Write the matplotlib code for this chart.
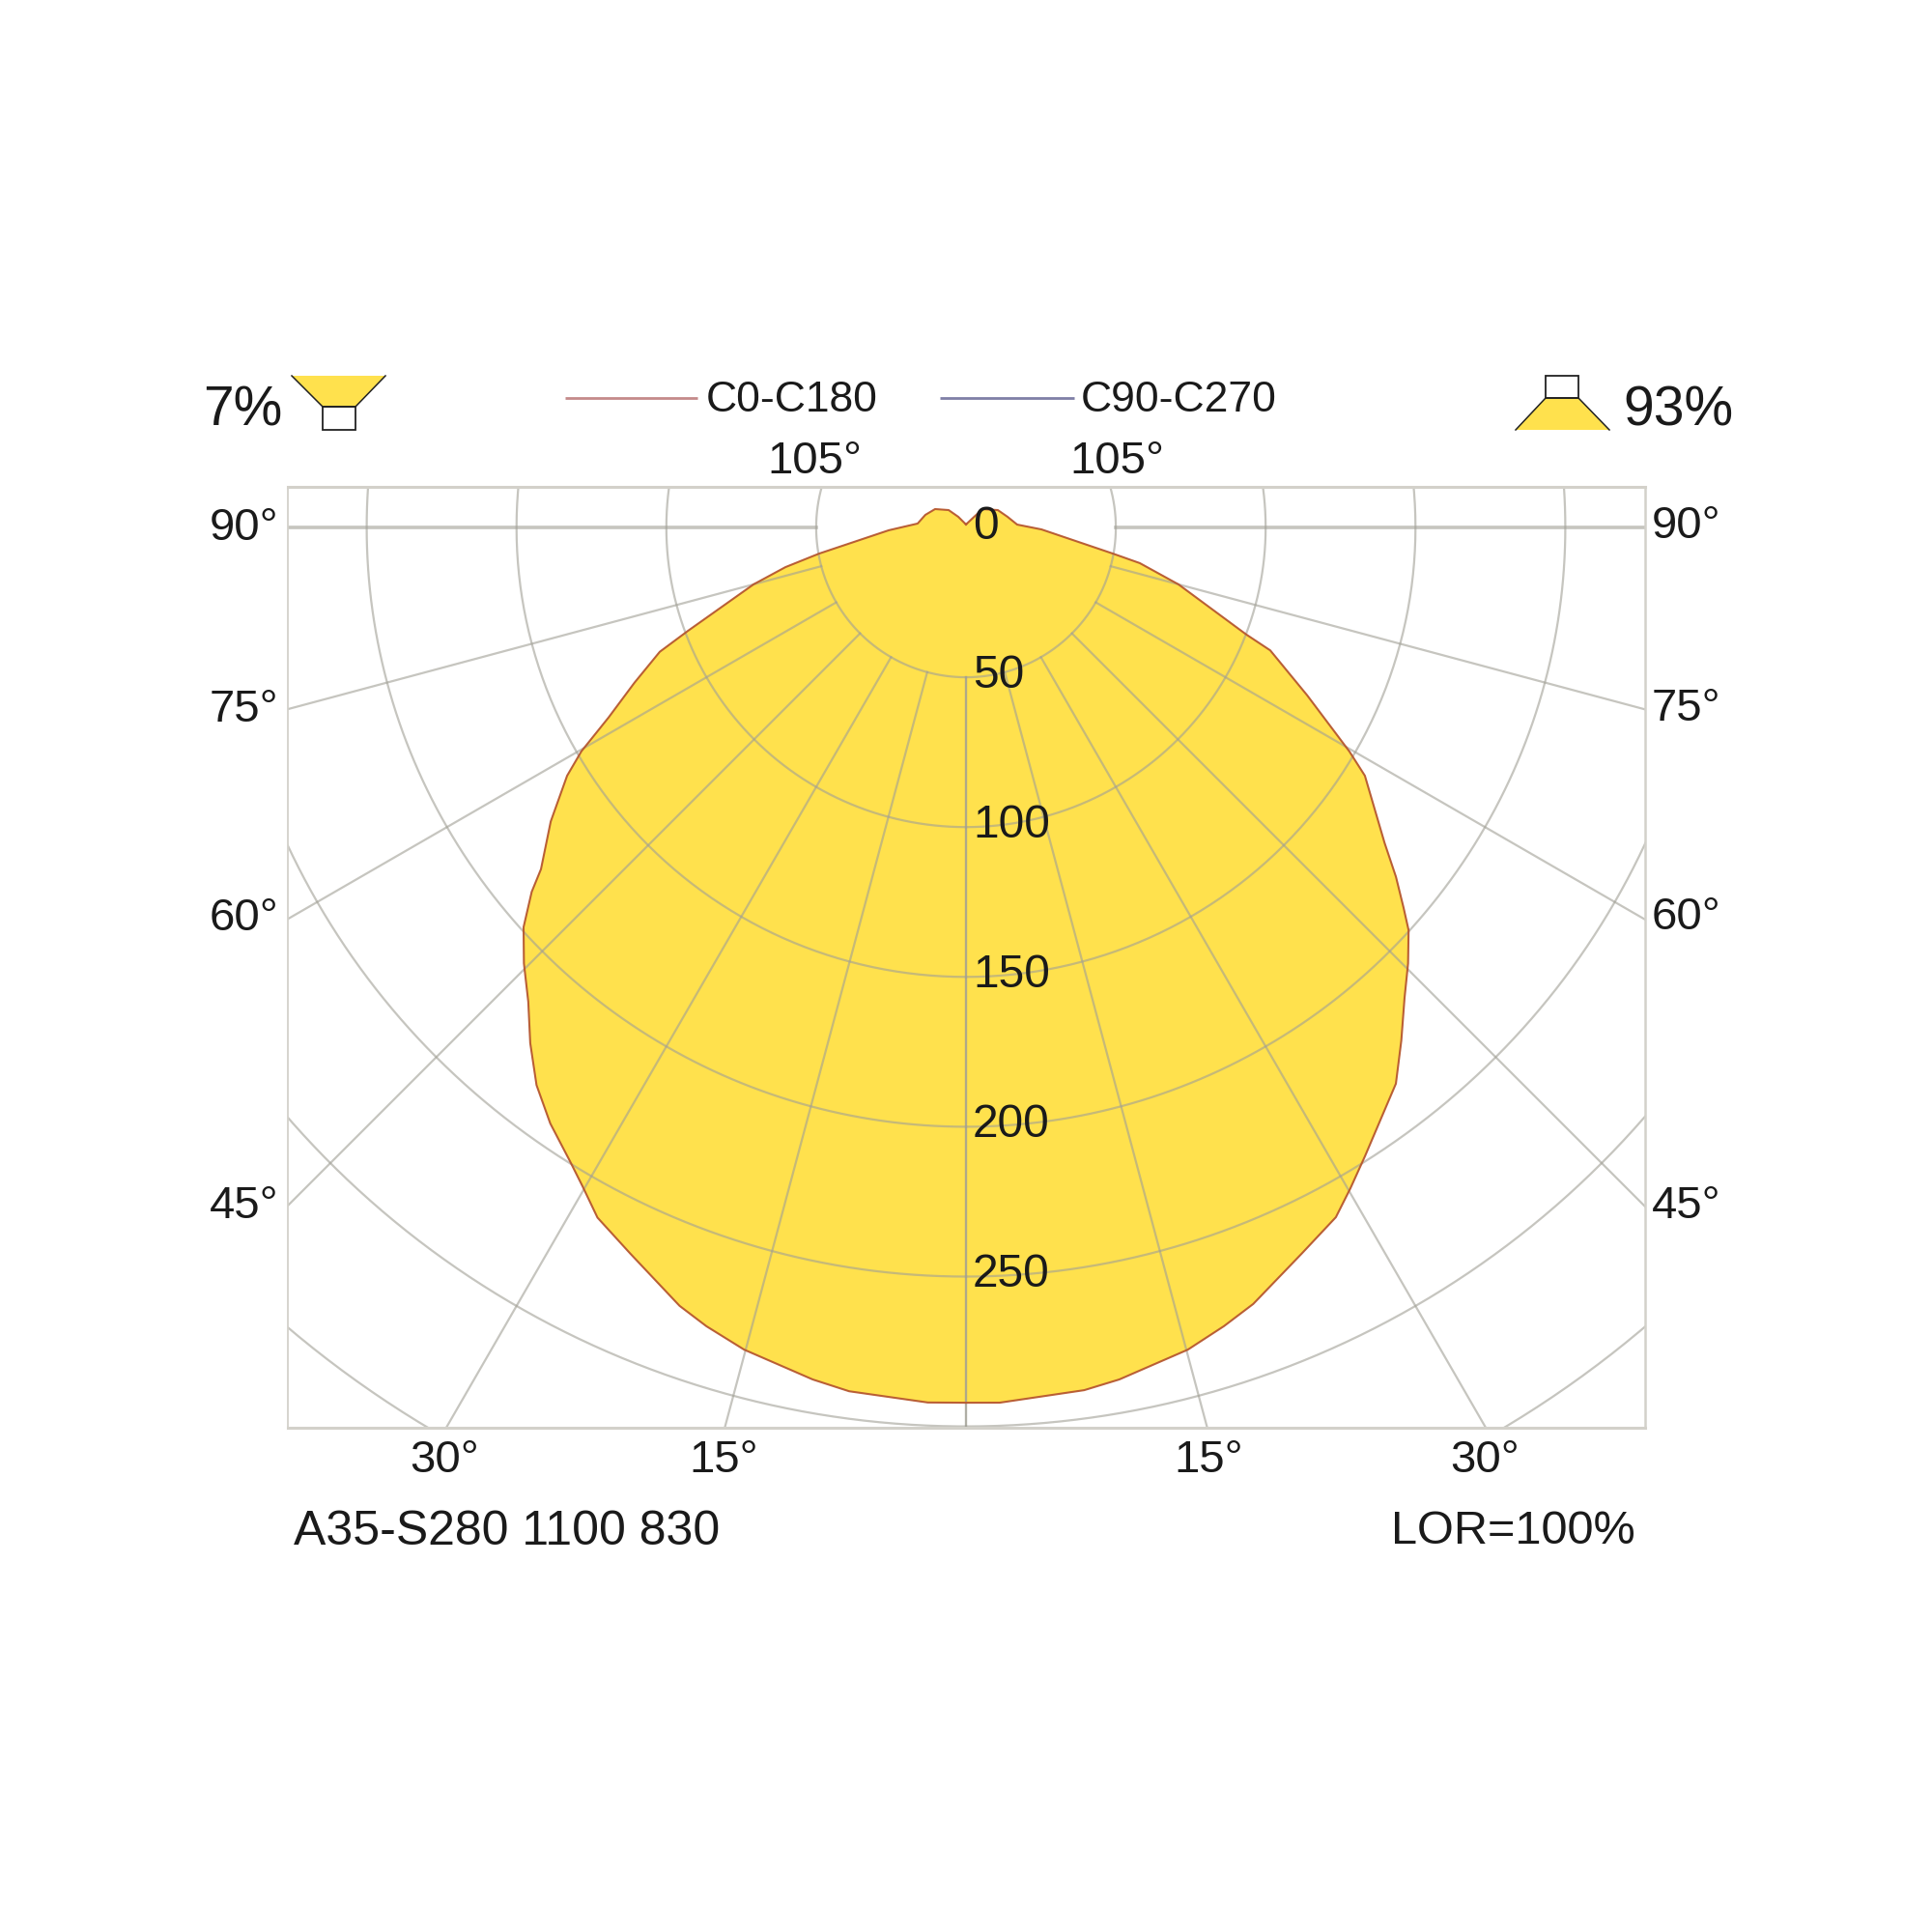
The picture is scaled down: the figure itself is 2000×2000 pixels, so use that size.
import numpy as np
import matplotlib
matplotlib.use("Agg")
import matplotlib.pyplot as plt
from matplotlib.patches import Polygon, Rectangle

plt.rcParams['font.family'] = ['Liberation Sans', 'DejaVu Sans']

# ---- data: luminous intensity (cd/klm) against angle from nadir (deg)
gamma_c0 = [0, 2.5, 7.7, 10.2, 15.1, 18.0, 20.2, 24.8, 28.1, 30.2, 32.0, 34.9, 37.6, 40.2,
            42.7, 45.4, 47.9, 50.0, 51.2, 54.7, 58.1, 59.8, 62.0, 64.9, 67.9, 69.6, 75.0,
            77.6, 79.9, 87.9, 94.6, 107.2, 120.7, 135.0, 144.0, 180.0]
cd_c0 = [292.1, 292.3, 290.9, 288.9, 284.2, 280.3, 276.8, 267.0, 261.1, 254.4, 249.4, 242.5,
         234.9, 225.3, 215.4, 207.2, 199.0, 189.2, 182.0, 169.8, 156.8, 148.5, 135.1, 122.2,
         110.3, 99.0, 73.4, 61.7, 49.8, 25.8, 16.2, 14.2, 12.0, 8.2, 4.4, 1.0]
gamma_c180 = [0, 2.2, 7.8, 10.2, 15.1, 17.9, 20.3, 24.8, 28.2, 30.2, 32.4, 37.7, 40.3, 43.0,
              45.4, 47.7, 49.0, 50.9, 53.0, 58.1, 59.7, 63.8, 68.0, 69.1, 75.0, 78.4, 79.9,
              88.5, 93.2, 104.4, 118.6, 138.2, 180.0]
cd_c180 = [292.1, 292.3, 290.6, 288.9, 284.2, 280.1, 276.3, 267.0, 261.2, 255.1, 248.5, 234.6,
           224.6, 214.6, 207.2, 199.7, 193.5, 184.9, 174.9, 156.8, 148.2, 126.9, 109.5, 100.1,
           73.4, 59.2, 49.8, 25.2, 17.1, 14.3, 12.1, 8.2, 1.0]

radial_ticks = [50, 100, 150, 200, 250, 300, 350]
radial_labels = [0, 50, 100, 150, 200, 250]
spoke_angles = [0, 15, 30, 45, 60, 75, 90]
series_names = ['C0-C180', 'C90-C270']
downward = '7%'
upward = '93%'
luminaire = 'A35-S280 1100 830'
lor = 'LOR=100%'

# ---- styles
YELLOW = '#FFE14D'
GRID = '#a09f95'
GRID_ALPHA = 0.6
RED = '#b8552a'
BLUE = '#6f6f9c'
INK = '#1a1a1a'

W = 2000
fig = plt.figure(figsize=(20, 20), dpi=100, facecolor='white')

L, R, T, B = 298, 1703, 504, 1478
CX, CY, SCALE = 1000, 546, 3.102
ax = fig.add_axes([L / W, 1 - B / W, (R - L) / W, (B - T) / W])
ax.set_xlim((L - CX) / SCALE, (R - CX) / SCALE)
ax.set_ylim((CY - B) / SCALE, (CY - T) / SCALE)
ax.set_xticks([])
ax.set_yticks([])
for side, lw in zip(['top', 'bottom', 'left', 'right'], [2.2, 2.2, 1.3, 1.8]):
    ax.spines[side].set_color('#d3d1ca')
    ax.spines[side].set_linewidth(lw)


def polar(gamma, cd, sign):
    g = np.radians(gamma)
    return sign * np.asarray(cd) * np.sin(g), -np.asarray(cd) * np.cos(g)


xl, yl = polar(gamma_c0, cd_c0, -1)
xr, yr = polar(gamma_c180, cd_c180, 1)
x_curve = np.concatenate([xl[::-1], xr[1:]])
y_curve = np.concatenate([yl[::-1], yr[1:]])

ax.fill(x_curve, y_curve, color=YELLOW, lw=0, zorder=1)

# grid
phi = np.radians(np.linspace(0, 360, 721))
for r in radial_ticks:
    ax.plot(r * np.sin(phi), -r * np.cos(phi), color=GRID, alpha=GRID_ALPHA, lw=1.6, zorder=2)
rmax = 420
for a in spoke_angles:
    t = np.radians(a)
    lw = 2.6 if a == 90 else 1.6
    for s in (-1, 1):
        ax.plot([s * 50 * np.sin(t), s * rmax * np.sin(t)],
                [-50 * np.cos(t), -rmax * np.cos(t)], color=GRID, alpha=GRID_ALPHA, lw=lw, zorder=2)

# curves (the two planes coincide)
ax.plot(x_curve, y_curve, color=BLUE, lw=0.6, alpha=0.6, zorder=3, solid_joinstyle='round')
ax.plot(x_curve, y_curve, color=RED, lw=1.5, alpha=0.9, zorder=4, solid_joinstyle='round')

# overlay in pixel coordinates for the annotations
ov = fig.add_axes([0, 0, 1, 1], facecolor='none')
ov.set_xlim(0, W)
ov.set_ylim(W, 0)
ov.axis('off')


def label(x, yc, s, size=34, ha='left'):
    cap = size * 100 / 72 * 0.716
    ov.text(x, yc + cap / 2, s, fontsize=size, ha=ha, va='baseline', color=INK)


for yc_left, yc_right, a in [(542, 540, 90), (730, 729, 75), (946, 945, 60), (1244, 1244, 45)]:
    label(288, yc_left, f'{a}°', ha='right')
    label(1710, yc_right, f'{a}°')
for xc, a in [(460, 30), (749, 15), (1251, 15), (1537, 30)]:
    label(xc, 1507, f'{a}°', ha='center')
for xc in (843, 1156):
    label(xc, 473, '105°', ha='center')

for v, yc in zip(radial_labels, [541, 695, 850, 1005, 1160, 1315]):
    label(1007, yc, str(v), size=34.5)

label(304, 1581, luminaire, size=36)
label(1693, 1581, lor, ha='right', size=35)

label(210, 420, downward, size=41)
label(1680, 420, upward, size=41)

ov.plot([585, 722], [412, 412], color='#c48a8a', lw=2.0, solid_capstyle='butt')
ov.plot([973, 1112], [412, 412], color='#7f7fa6', lw=2.0, solid_capstyle='butt')
label(731, 410, series_names[0], size=32)
label(1119, 410, series_names[1], size=32)

# pictograms
ov.add_patch(Polygon([(302, 389), (399, 389), (368, 421), (334, 421)], closed=True,
                     facecolor=YELLOW, edgecolor='none'))
ov.plot([302, 334, 368, 399], [389, 421, 421, 389], color='#222222', lw=1.1)
ov.add_patch(Rectangle((334, 421), 34, 24, facecolor='white', edgecolor='#222222', lw=1.3))
ov.add_patch(Polygon([(1600, 412), (1634, 412), (1666, 445), (1569, 445)], closed=True,
                     facecolor=YELLOW, edgecolor='none'))
ov.plot([1569, 1600, 1634, 1666], [445, 412, 412, 445], color='#222222', lw=1.1)
ov.add_patch(Rectangle((1600, 389), 34, 23, facecolor='white', edgecolor='#222222', lw=1.3))

fig.savefig('out.png', dpi=100, facecolor='white')
